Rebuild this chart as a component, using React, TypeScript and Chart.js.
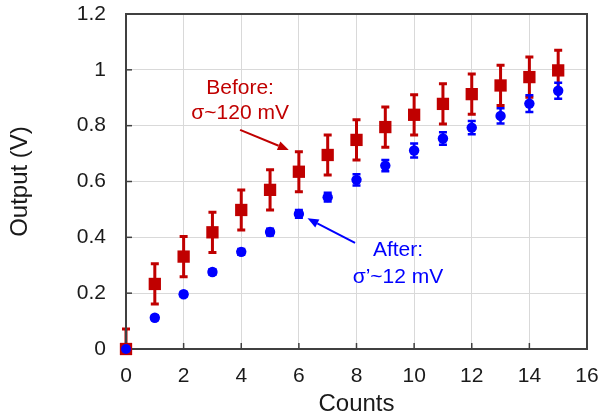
import { useEffect, useRef } from "react";
import { Chart, registerables } from "chart.js";

Chart.register(...registerables);

const counts = [0, 1, 2, 3, 4, 5, 6, 7, 8, 9, 10, 11, 12, 13, 14, 15];
const beforeValues = [0, 0.233, 0.331, 0.418, 0.498, 0.57, 0.635, 0.695, 0.749, 0.795, 0.839, 0.878, 0.913, 0.944, 0.974, 0.998];
const beforeErrors = [0.072, 0.072, 0.072, 0.072, 0.072, 0.072, 0.072, 0.072, 0.072, 0.072, 0.072, 0.072, 0.072, 0.072, 0.072, 0.072];
const afterValues = [0, 0.112, 0.196, 0.276, 0.348, 0.419, 0.484, 0.544, 0.606, 0.657, 0.711, 0.754, 0.793, 0.835, 0.879, 0.925];
const afterErrors = [0.008, 0.008, 0.008, 0.01, 0.01, 0.012, 0.014, 0.016, 0.02, 0.02, 0.025, 0.022, 0.024, 0.027, 0.03, 0.029];

const xTicks = [0, 2, 4, 6, 8, 10, 12, 14, 16];
const yTicks = [0, 0.2, 0.4, 0.6, 0.8, 1, 1.2];

const RED = "#C00000";
const BLUE = "#0000FF";
const FONT = "'Liberation Sans', Arial, sans-serif";

// annotation anchors in data coordinates
const beforeLabel = { x: 3.96, lines: ["Before:", "σ~120 mV"], ys: [0.935, 0.846] };
const beforeArrow = { from: [3.96, 0.785], to: [5.65, 0.713] };
const afterLabel = { x: 9.44, lines: ["After:", "σ’~12 mV"], ys: [0.355, 0.258] };
const afterArrow = { from: [7.95, 0.38], to: [6.3, 0.468] };

const errorBarPlugin = {
  id: "errorBars",
  beforeDatasetsDraw(chart: any) {
    const { ctx, chartArea, scales } = chart;
    const xs = scales.x;
    const ys = scales.y;
    ctx.save();
    ctx.beginPath();
    ctx.rect(chartArea.left - 10, chartArea.top, chartArea.right - chartArea.left + 20, chartArea.bottom - chartArea.top);
    ctx.clip();
    const sets = [
      { vals: beforeValues, errs: beforeErrors, color: RED, lw: 3, cap: 4 },
      { vals: afterValues, errs: afterErrors, color: BLUE, lw: 2.5, cap: 4 },
    ];
    for (const s of sets) {
      ctx.strokeStyle = s.color;
      ctx.lineWidth = s.lw;
      counts.forEach((c, i) => {
        const px = xs.getPixelForValue(c);
        const top = ys.getPixelForValue(s.vals[i] + s.errs[i]);
        const bot = ys.getPixelForValue(s.vals[i] - s.errs[i]);
        ctx.beginPath();
        ctx.moveTo(px, top);
        ctx.lineTo(px, bot);
        ctx.moveTo(px - s.cap, top);
        ctx.lineTo(px + s.cap, top);
        ctx.moveTo(px - s.cap, bot);
        ctx.lineTo(px + s.cap, bot);
        ctx.stroke();
      });
    }
    ctx.restore();
  },
};

function arrow(ctx: any, x1: number, y1: number, x2: number, y2: number, color: string) {
  const ang = Math.atan2(y2 - y1, x2 - x1);
  const len = 11;
  const hw = 4.5;
  const bx = x2 - len * Math.cos(ang);
  const by = y2 - len * Math.sin(ang);
  ctx.strokeStyle = color;
  ctx.fillStyle = color;
  ctx.lineWidth = 2;
  ctx.beginPath();
  ctx.moveTo(x1, y1);
  ctx.lineTo(bx, by);
  ctx.stroke();
  ctx.beginPath();
  ctx.moveTo(x2, y2);
  ctx.lineTo(bx + hw * Math.sin(ang), by - hw * Math.cos(ang));
  ctx.lineTo(bx - hw * Math.sin(ang), by + hw * Math.cos(ang));
  ctx.closePath();
  ctx.fill();
}

const framePlugin = {
  id: "frameAndNotes",
  afterDatasetsDraw(chart: any) {
    const { ctx, chartArea, scales } = chart;
    const xs = scales.x;
    const ys = scales.y;
    ctx.save();
    // inner tick marks
    ctx.strokeStyle = "#404040";
    ctx.lineWidth = 1.5;
    xTicks.forEach((t) => {
      const px = xs.getPixelForValue(t);
      ctx.beginPath();
      ctx.moveTo(px, chartArea.bottom);
      ctx.lineTo(px, chartArea.bottom - 6);
      ctx.stroke();
    });
    yTicks.forEach((t) => {
      const py = ys.getPixelForValue(t);
      ctx.beginPath();
      ctx.moveTo(chartArea.left, py);
      ctx.lineTo(chartArea.left + 6, py);
      ctx.stroke();
    });
    // frame
    ctx.strokeStyle = "#404040";
    ctx.lineWidth = 2;
    ctx.strokeRect(chartArea.left, chartArea.top, chartArea.right - chartArea.left, chartArea.bottom - chartArea.top);
    ctx.restore();

    // redraw points at origin over the frame
    ctx.save();
    const ox = xs.getPixelForValue(counts[0]);
    const oyR = ys.getPixelForValue(beforeValues[0]);
    ctx.fillStyle = RED;
    ctx.fillRect(ox - 6, oyR - 6, 12, 12);
    const oyB = ys.getPixelForValue(afterValues[0]);
    ctx.fillStyle = BLUE;
    ctx.beginPath();
    ctx.arc(ox, oyB, 5, 0, Math.PI * 2);
    ctx.fill();
    ctx.restore();

    // annotations
    ctx.save();
    ctx.font = `21px ${FONT}`;
    ctx.textAlign = "center";
    ctx.textBaseline = "middle";
    ctx.fillStyle = RED;
    beforeLabel.lines.forEach((l, i) => {
      ctx.fillText(l, xs.getPixelForValue(beforeLabel.x), ys.getPixelForValue(beforeLabel.ys[i]));
    });
    arrow(
      ctx,
      xs.getPixelForValue(beforeArrow.from[0]),
      ys.getPixelForValue(beforeArrow.from[1]),
      xs.getPixelForValue(beforeArrow.to[0]),
      ys.getPixelForValue(beforeArrow.to[1]),
      RED
    );
    ctx.fillStyle = BLUE;
    afterLabel.lines.forEach((l, i) => {
      ctx.fillText(l, xs.getPixelForValue(afterLabel.x), ys.getPixelForValue(afterLabel.ys[i]));
    });
    arrow(
      ctx,
      xs.getPixelForValue(afterArrow.from[0]),
      ys.getPixelForValue(afterArrow.from[1]),
      xs.getPixelForValue(afterArrow.to[0]),
      ys.getPixelForValue(afterArrow.to[1]),
      BLUE
    );
    ctx.restore();
  },
};

export default function App() {
  const ref = useRef<HTMLCanvasElement>(null);
  useEffect(() => {
    Chart.defaults.font.family = FONT;
    const chart = new Chart(ref.current!, {
      type: "scatter",
      data: {
        datasets: [
          {
            label: "After",
            data: counts.map((c, i) => ({ x: c, y: afterValues[i] })),
            backgroundColor: BLUE,
            borderColor: BLUE,
            pointStyle: "circle",
            pointRadius: 5.2,
            borderWidth: 0,
            clip: false,
          },
          {
            label: "Before",
            data: counts.map((c, i) => ({ x: c, y: beforeValues[i] })),
            backgroundColor: RED,
            borderColor: RED,
            pointStyle: "rect",
            pointRadius: 8.7,
            borderWidth: 0,
            clip: false,
          },
        ],
      },
      options: {
        animation: false,
        responsive: false,
        layout: { padding: { left: 0, top: 14, right: 14, bottom: 0 } },
        plugins: { legend: { display: false }, tooltip: { enabled: false } },
        scales: {
          x: {
            type: "linear",
            min: 0,
            max: 16,
            afterFit: (s: any) => {
              s.height = 70;
              s.paddingLeft = 0;
              s.paddingRight = 0;
            },
            afterBuildTicks: (s: any) => {
              s.ticks = xTicks.map((v) => ({ value: v }));
            },
            grid: { color: "#d9d9d9", lineWidth: 1, drawTicks: false },
            border: { display: false },
            ticks: { padding: 15, color: "#1a1a1a", font: { size: 21 } },
            title: { display: true, text: "Counts", color: "#1a1a1a", font: { size: 24 }, padding: { top: 0, bottom: 0 } },
          },
          y: {
            type: "linear",
            min: 0,
            max: 1.2,
            afterFit: (s: any) => {
              s.width = 126;
              s.paddingTop = 0;
              s.paddingBottom = 0;
            },
            afterBuildTicks: (s: any) => {
              s.ticks = yTicks.map((v) => ({ value: v }));
            },
            grid: { color: "#d9d9d9", lineWidth: 1, drawTicks: false },
            border: { display: false },
            ticks: {
              padding: 20,
              color: "#1a1a1a",
              font: { size: 21 },
              callback: (v: any) => String(Number(Number(v).toFixed(1))),
            },
            title: { display: true, text: "Output (V)", color: "#1a1a1a", font: { size: 24 }, padding: { top: 6, bottom: 0 } },
          },
        },
      },
      plugins: [errorBarPlugin, framePlugin],
    });
    return () => chart.destroy();
  }, []);
  return (
    <div style={{ position: "fixed", left: 0, top: 0, width: 601, height: 419, background: "#fff" }}>
      <canvas ref={ref} width={601} height={419} />
    </div>
  );
}
